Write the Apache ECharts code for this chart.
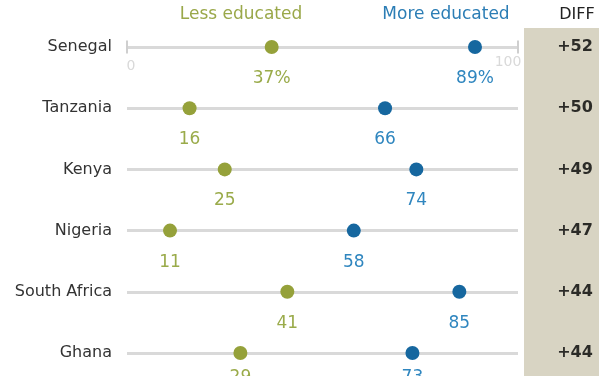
<!DOCTYPE html>
<html><head><meta charset="utf-8">
<script src="https://cdn.jsdelivr.net/npm/echarts@6/dist/echarts.min.js"></script>
<style>html,body{margin:0;padding:0;background:#fff}#c{width:599px;height:376px}</style>
</head><body><div id="c"></div>
<script>
const countries = ['Senegal','Tanzania','Kenya','Nigeria','South Africa','Ghana'];
const lessEducated = [37,16,25,11,41,29];
const moreEducated = [89,66,74,58,85,73];
const axisEnds = [0,100];

const chart = echarts.init(document.getElementById('c'));
const font = '"DejaVu Sans", sans-serif';
const diffs = countries.map((c,i)=>'+' + (moreEducated[i]-lessEducated[i]));
const lastIdx = countries.length - 1;
const valueLayout = p => p.dataIndex === lastIdx ? {dy:-7} : {};

chart.setOption({
  animation:false,
  backgroundColor:'#fff',
  graphic:[
    {type:'rect', shape:{x:524,y:28,width:75,height:348}, style:{fill:'#d8d4c3'}, z:-10},
    {type:'text', x:577, y:7, style:{text:'DIFF', fill:'#222', font:'16px '+font, textAlign:'center'}},
    {type:'text', x:241, y:6, style:{text:'Less educated', fill:'#9aa84a', font:'17px '+font, textAlign:'center'}},
    {type:'text', x:446, y:6, style:{text:'More educated', fill:'#2b7db5', font:'17px '+font, textAlign:'center'}}
  ],
  grid:[
    {left:127, right:81, top:47, bottom:23},
    {left:524, right:0, top:47, bottom:23}
  ],
  xAxis:[
    {gridIndex:0, type:'value', min:0, max:100, show:false},
    {gridIndex:1, type:'value', min:0, max:1, show:false}
  ],
  yAxis:[
    {gridIndex:0, type:'category', data:countries, inverse:true, boundaryGap:false,
     axisLine:{show:false}, axisTick:{show:false},
     axisLabel:{color:'#333', fontSize:16, fontFamily:font, margin:15},
     splitLine:{show:true, lineStyle:{color:'#d9d9d9', width:3}}},
    {gridIndex:1, type:'category', data:countries, inverse:true, boundaryGap:false, show:false}
  ],
  series:[
    {type:'scatter', xAxisIndex:0, yAxisIndex:0, symbol:'rect', symbolSize:[2,13],
     itemStyle:{color:'#cfcfcf', opacity:1}, z:3,
     data:axisEnds.map(v=>[v,countries[0]]),
     label:{show:true, color:'#d9d9d9', fontSize:14, fontFamily:font,
       formatter:p=>String(p.value[0]),
       position:'bottom', distance:6},
     labelLayout:function(p){ return p.dataIndex===0 ? {dx:4} : {dx:-10, dy:-4}; }
    },
    {type:'scatter', name:'Less educated', xAxisIndex:0, yAxisIndex:0, symbolSize:14, z:5,
     itemStyle:{color:'#95a13a', opacity:1},
     data:lessEducated.map((v,i)=>[v,countries[i]]),
     label:{show:true, position:'bottom', distance:16, color:'#9aab4a', fontSize:17, fontFamily:font,
       formatter:p=>p.dataIndex===0 ? p.value[0]+'%' : String(p.value[0])},
     labelLayout:valueLayout},
    {type:'scatter', name:'More educated', xAxisIndex:0, yAxisIndex:0, symbolSize:14, z:5,
     itemStyle:{color:'#16679f', opacity:1},
     data:moreEducated.map((v,i)=>[v,countries[i]]),
     label:{show:true, position:'bottom', distance:16, color:'#2f86bf', fontSize:17, fontFamily:font,
       formatter:p=>p.dataIndex===0 ? p.value[0]+'%' : String(p.value[0])},
     labelLayout:valueLayout},
    {type:'scatter', xAxisIndex:1, yAxisIndex:1, symbolSize:0,
     data:countries.map((c,i)=>[0.68,c]),
     label:{show:true, position:'inside', color:'#000', fontSize:16, fontWeight:'bold', fontFamily:font,
       formatter:p=>diffs[p.dataIndex]}}
  ]
});
</script></body></html>
